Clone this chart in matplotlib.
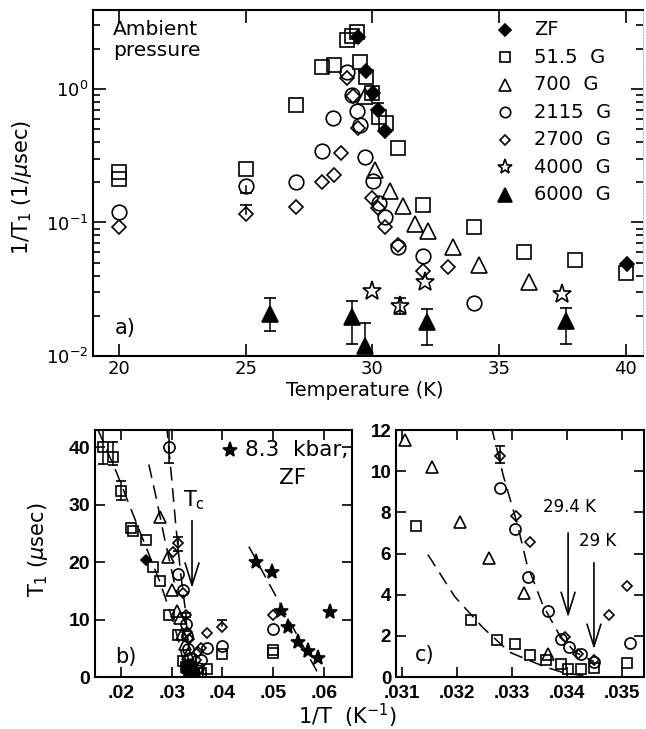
import numpy as np
import matplotlib
matplotlib.use("Agg")
from matplotlib import pyplot as plt
from matplotlib.ticker import LogLocator, NullLocator, NullFormatter

nan = np.nan

# ---- ambient pressure data: temperature (K) and 1/T1 (1/usec), per field
zf_T = [29.43, 29.75, 30.03, 30.22, 30.5, 40.05]
zf_rate = [2.44, 1.36, 0.93, 0.70, 0.48, 0.049]

g51_T = [20.0, 20.0, 25.0, 27.0, 28.0, 28.5, 29.0, 29.2, 29.4, 29.5, 29.75, 30.0,
         30.25, 30.55, 31.0, 32.0, 34.0, 36.0, 38.0, 40.0, 44.6, 45.5, 50.0, 54.3, 60.6]
g51_rate = [0.24, 0.21, 0.25, 0.76, 1.46, 1.52, 2.32, 2.48, 2.66, 1.59, 1.23, 0.94,
            0.62, 0.56, 0.36, 0.136, 0.092, 0.06, 0.052, 0.042, 0.0394, 0.0385,
            0.0308, 0.0261, 0.025]

g700_T = [29.72, 30.1, 30.7, 31.2, 31.7, 32.2, 33.2, 34.2, 36.2]
g700_rate = [0.89, 0.245, 0.173, 0.133, 0.098, 0.087, 0.066, 0.048, 0.036]

g2115_T = [20.0, 25.0, 27.0, 28.0, 28.45, 29.0, 29.2, 29.38, 29.5, 29.72, 30.03,
           30.26, 30.5, 31.0, 32.0, 34.0]
g2115_rate = [0.12, 0.186, 0.2, 0.34, 0.61, 1.33, 0.9, 0.68, 0.54, 0.31, 0.206,
              0.139, 0.109, 0.066, 0.056, 0.025]

g2700_T = [20.0, 25.0, 27.0, 28.0, 28.5, 28.76, 29.0, 29.24, 29.45, 30.0, 30.24,
           30.5, 31.0, 32.0, 33.0]
g2700_rate = [0.092, 0.115, 0.13, 0.2, 0.227, 0.33, 1.2, 0.89, 0.51, 0.153, 0.128,
              0.093, 0.068, 0.043, 0.046]

g4000_T = [30.0, 31.1, 32.1, 37.5]
g4000_rate = [0.0306, 0.0235, 0.036, 0.029]

g6000_T = [25.96, 29.2, 29.7, 32.15, 37.65]
g6000_rate = [0.0205, 0.0195, 0.0119, 0.018, 0.0183]

legend_labels = ['ZF', '51.5  G', '700  G', '2115  G', '2700  G', '4000  G', '6000  G']

# error bars, panel a (T, value, low cap, high cap)
errA_T = [25.96, 29.2, 29.7, 32.15, 37.65, 25.0, 25.0, 30.22, 31.1]
errA_mid = [0.0205, 0.0195, 0.0119, 0.018, 0.0183, 0.186, 0.115, 0.70, 0.0235]
errA_lo = [0.0153, 0.0123, 0.008, 0.0121, 0.0123, 0.167, nan, nan, 0.0206]
errA_hi = [0.027, 0.026, 0.0177, 0.0225, 0.0228, nan, 0.134, 0.79, 0.027]

# error bars, panels b/c (1/T, value, low cap, high cap)
errB_x = [0.0165, 0.0184, 0.0200, 0.0294, 0.0312, 0.0400, 0.03278]
errB_mid = [40.0, 38.3, 32.5, 40.0, 23.3, 8.9, 10.8]
errB_lo = [37.0, 36.9, 30.8, 37.2, 21.9, nan, 10.4]
errB_hi = [43.0, 40.9, 34.1, 46.0, 24.3, 9.9, 11.2]

# 8.3 kbar, ZF: 1/T (1/K) and T1 (usec)
p83_invT = [0.0466, 0.0497, 0.0515, 0.0529, 0.0549, 0.0569, 0.0588, 0.0612]
p83_T1 = [20.0, 18.3, 11.5, 8.7, 6.1, 4.5, 3.3, 11.3]

# dashed guide curves, 1/T vs T1
fit51_x = [0.0155, 0.0191, 0.0215, 0.0250, 0.0277, 0.0300, 0.03147, 0.03196,
           0.03247, 0.03296, 0.0336, 0.0339, 0.0343]
fit51_y = [43.0, 35.7, 30.3, 22.5, 16.5, 10.5, 5.95, 3.9, 2.4, 1.2, 0.49, 0.24, 0.05]
fit700_x = [0.0255, 0.0270, 0.0285, 0.0300, 0.0310]
fit700_y = [37.0, 31.0, 24.5, 18.5, 14.5]
fit2115_x = [0.0290, 0.0294, 0.0300, 0.0308, 0.0317, 0.03264, 0.03284, 0.0331,
             0.03327, 0.03356, 0.03387, 0.03415, 0.03449]
fit2115_y = [44.0, 40.0, 34.5, 26.5, 18.5, 12.0, 9.8, 7.4, 5.5, 3.5, 2.0, 1.2, 0.75]
fitp83_x = [0.0452, 0.0592]
fitp83_y = [22.7, 0.0]
fit_c_start = 0.03147   # in panel c the low-field curve is only drawn from here

# marker, filled, size (a), size (b,c), size (legend), shown in b, shown in c
styles = [
    ('D', True, 7, 5.5, 6, True, False),
    ('s', False, 10.5, 7.5, 7.5, True, True),
    ('^', False, 11, 8.5, 9, True, True),
    ('o', False, 10.5, 8, 7.5, True, True),
    ('D', False, 7, 5.5, 5.5, True, True),
    ('*', False, 14, 10, 11, False, False),
    ('^', True, 12, 9, 10, False, False),
]
series = [(zf_T, zf_rate), (g51_T, g51_rate), (g700_T, g700_rate),
          (g2115_T, g2115_rate), (g2700_T, g2700_rate), (g4000_T, g4000_rate),
          (g6000_T, g6000_rate)]

plt.rcParams['font.family'] = ['DejaVu Sans']
plt.rcParams['axes.linewidth'] = 1.5


def mstyle(marker, filled, ms):
    return dict(ls='none', marker=marker, ms=ms, mew=1.2, mec='k',
                mfc='k' if filled else 'none')


def draw_err(ax, x, mid, lo, hi, cap):
    for xi, m, l, h in zip(x, mid, lo, hi):
        y0 = m if np.isnan(l) else l
        y1 = m if np.isnan(h) else h
        ax.plot([xi, xi], [y0, y1], color='k', lw=1.1)
        caps = [v for v in (l, h) if not np.isnan(v)]
        ax.plot([xi] * len(caps), caps, ls='none', marker='_', ms=cap, mew=1.2, color='k')


def bold_ticks(ax, xt, xl, yt, yl, size=14):
    font = dict(fontfamily='Liberation Sans', fontweight='bold', fontsize=size)
    ax.set_xticks(xt, xl, **font)
    ax.set_yticks(yt, yl, **font)
    ax.tick_params(which='both', direction='in', top=True, right=True,
                   length=7, width=1.2)
    ax.tick_params(axis='x', pad=6)


def arrow(ax, x, y0, y1):
    ax.annotate('', xy=(x, y1), xytext=(x, y0),
                arrowprops=dict(arrowstyle='->,head_length=0.8,head_width=0.25',
                                lw=1.2, color='k', mutation_scale=20,
                                shrinkA=0, shrinkB=0))


W, H = 646, 729
fig = plt.figure(figsize=(W / 100, H / 100), dpi=100)

# ---------------- panel a ----------------
ax_a = fig.add_axes([93 / W, 1 - 356 / H, 550 / W, 346 / H])
for (T, r), st in zip(series, styles):
    ax_a.plot(T, r, **mstyle(st[0], st[1], st[2]))
draw_err(ax_a, errA_T, errA_mid, errA_lo, errA_hi, 9)
ax_a.set_yscale('log')
ax_a.set_xlim(18.97, 40.69)
ax_a.set_ylim(0.01, 3.9)
ax_a.set_xticks([20, 25, 30, 35, 40])
ax_a.xaxis.set_minor_locator(NullLocator())
ax_a.yaxis.set_major_locator(LogLocator(base=10))
ax_a.yaxis.set_minor_locator(LogLocator(base=10, subs=np.arange(2, 10)))
ax_a.yaxis.set_minor_formatter(NullFormatter())
ax_a.tick_params(which='both', direction='in', top=True, right=True, width=1.2,
                 labelsize=13)
ax_a.tick_params(axis='x', pad=3)
ax_a.tick_params(which='major', length=9)
ax_a.tick_params(which='minor', length=5)
ax_a.spines['right'].set_color('#bbbbbb')
ax_a.spines['right'].set_linewidth(0.8)
ax_a.spines['right'].set_linestyle(':')
ax_a.text(20 / 550, 1 - 30 / 346, 'Ambient\npressure', transform=ax_a.transAxes,
          fontsize=14.5, va='center', linespacing=1.15)
ax_a.text(22 / 550, 28 / 346, 'a)', transform=ax_a.transAxes, fontsize=15,
          va='center')
for i, (lab, st) in enumerate(zip(legend_labels, styles)):
    yf = (356 - 30 - 27.5 * i) / 346
    ax_a.plot([412 / 550], [yf], transform=ax_a.transAxes, clip_on=False,
              **mstyle(st[0], st[1], st[4]))
    ax_a.text(441 / 550, yf, lab, transform=ax_a.transAxes, fontsize=14,
              va='center')
fig.text(365 / W, 1 - 390 / H, 'Temperature (K)', fontsize=14, ha='center',
         va='center')
fig.text(22 / W, 1 - 187 / H, r'1/T$_1$ (1/$\mu$sec)', fontsize=15, rotation=90,
         ha='center', va='center')

# ---------------- panels b and c ----------------
ax_b = fig.add_axes([95 / W, 1 - 677 / H, 257 / W, 247 / H])
ax_c = fig.add_axes([396 / W, 1 - 677 / H, 248 / W, 247 / H])

for ax, col in ((ax_b, 5), (ax_c, 6)):
    for (T, r), st in zip(series, styles):
        if st[col]:
            ax.plot(1 / np.array(T), 1 / np.array(r), **mstyle(st[0], st[1], st[3]))
    for fx, fy in ((fit700_x, fit700_y), (fit2115_x, fit2115_y)):
        ax.plot(fx, fy, color='k', lw=1.1, dashes=(9, 5))
    draw_err(ax, errB_x, errB_mid, errB_lo, errB_hi, 7)

ax_b.plot(fit51_x, fit51_y, color='k', lw=1.1, dashes=(9, 5))
keep = np.array(fit51_x) >= fit_c_start
ax_c.plot(np.array(fit51_x)[keep], np.array(fit51_y)[keep], color='k', lw=1.1,
          dashes=(9, 5))

ax_b.plot(p83_invT, p83_T1, **mstyle('*', True, 11))
ax_b.plot(fitp83_x, fitp83_y, color='k', lw=1.1, dashes=(9, 5))
ax_b.set_xlim(0.0149, 0.0655)
ax_b.set_ylim(0, 43)
bold_ticks(ax_b, [0.02, 0.03, 0.04, 0.05, 0.06], ['.02', '.03', '.04', '.05', '.06'],
           [0, 10, 20, 30, 40], ['0', '10', '20', '30', '40'])
ax_b.plot([135 / 257], [227 / 247], transform=ax_b.transAxes, clip_on=False,
          **mstyle('*', True, 11))
ax_b.text(150 / 257, 227 / 247, '8.3  kbar,', transform=ax_b.transAxes,
          fontsize=15.5, va='center')
ax_b.text(198 / 257, 199 / 247, 'ZF', transform=ax_b.transAxes, fontsize=15.5,
          va='center', ha='center')
ax_b.text(20 / 257, 20 / 247, 'b)', transform=ax_b.transAxes, fontsize=15,
          va='center')
ax_b.text(0.0343, 30.8, r'T$_\mathrm{c}$', fontsize=15, ha='center', va='center')
arrow(ax_b, 0.0340, 27.2, 15.5)
fig.text(38 / W, 1 - 550 / H, r'T$_1$ ($\mu$sec)', fontsize=15,
         rotation=90, ha='center', va='center')

ax_c.set_xlim(0.030891, 0.0354)
ax_c.set_ylim(0, 12)
bold_ticks(ax_c, [0.031, 0.032, 0.033, 0.034, 0.035],
           ['.031', '.032', '.033', '.034', '.035'],
           [0, 2, 4, 6, 8, 10, 12], ['0', '2', '4', '6', '8', '10', '12'], size=13.5)
ax_c.text(19 / 249, 22 / 247, 'c)', transform=ax_c.transAxes, fontsize=15,
          va='center')
ax_c.text(0.03404, 8.24, '29.4 K', fontsize=12, ha='center', va='center')
ax_c.text(0.03456, 6.6, '29 K', fontsize=12, ha='center', va='center')
arrow(ax_c, 0.03402, 7.0, 2.9)
arrow(ax_c, 0.03449, 5.55, 1.35)

fig.text(347 / W, 1 - 716 / H, r'1/T  (K$^{-1}$)', fontsize=15, ha='center',
         va='center')

fig.savefig('out.png', dpi=100)
